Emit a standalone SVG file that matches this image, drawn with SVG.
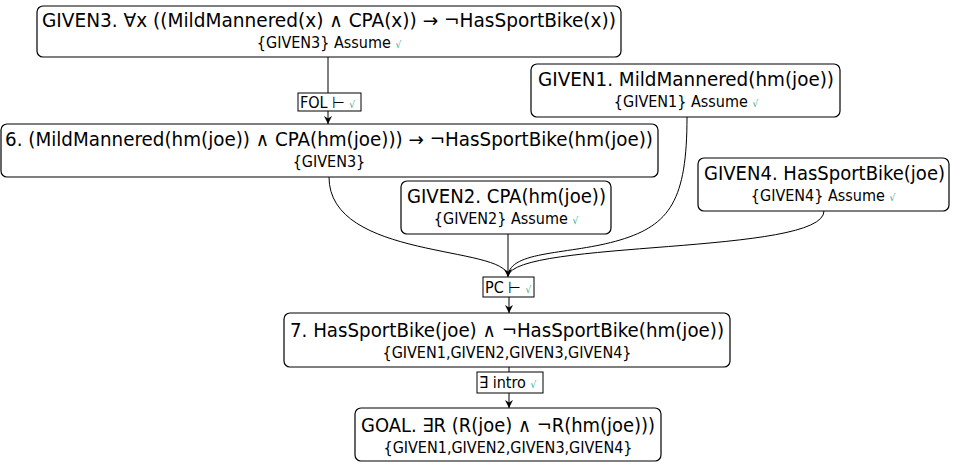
<svg xmlns="http://www.w3.org/2000/svg" width="954" height="465" viewBox="0 0 954 465">
<style>
.n rect{fill:#fff;stroke:#000;stroke-width:1.2}
.t{font-family:"DejaVu Sans Condensed","DejaVu Sans",sans-serif;font-size:19px;fill:#000}
.s{font-family:"DejaVu Sans Condensed","DejaVu Sans",sans-serif;font-size:16px;fill:#000;text-anchor:middle}
.c{font-size:10px;fill:#3aa89a}
.l rect{fill:#fff;stroke:#000;stroke-width:1}
.lt{font-family:"DejaVu Sans Condensed","DejaVu Sans",sans-serif;font-size:16px;fill:#000}
.e{fill:none;stroke:#000;stroke-width:1}
</style>
<defs>
<marker id="a" viewBox="0 0 10 10" refX="10" refY="5" markerWidth="8" markerHeight="8" orient="auto" markerUnits="userSpaceOnUse"><path d="M0,0L10,5L0,10L3,5z" fill="#000"/></marker>
</defs>
<g id="connectors">
<path class="e" d="M328,57V93"/>
<path class="e" d="M328,111V124" marker-end="url(#a)"/>
<path class="e" d="M329,177C329,260 505,245 508,276"/>
<path class="e" d="M687,117C687,200 670,225 620,240C570,255 510,250 508,276"/>
<path class="e" d="M508,234V277" marker-end="url(#a)"/>
<path class="e" d="M824,211C824,255 515,240 508,276"/>
<path class="e" d="M509,297V313" marker-end="url(#a)"/>
<path class="e" d="M509,367V372"/>
<path class="e" d="M509,393V408" marker-end="url(#a)"/>
</g>
<g id="l-fol" class="l"><rect x="298" y="93" width="63" height="18"/><text class="lt" x="300" y="108">FOL ⊢ <tspan class="c">√</tspan></text></g>
<g id="l-pc" class="l"><rect x="483" y="277" width="51" height="20"/><text class="lt" x="485" y="293">PC ⊢ <tspan class="c">√</tspan></text></g>
<g id="l-ex" class="l"><rect x="477" y="372" width="66" height="21"/><text class="lt" x="479" y="388">∃ intro <tspan class="c">√</tspan></text></g>
<g id="GIVEN3" class="n"><rect x="37" y="6" width="584" height="51" rx="6"/><text class="t" x="42" y="27" textLength="574" lengthAdjust="spacingAndGlyphs">GIVEN3. ∀x ((MildMannered(x) ∧ CPA(x)) → ¬HasSportBike(x))</text><text class="s" x="329" y="48">{GIVEN3} Assume <tspan class="c">√</tspan></text></g>
<g id="GIVEN1" class="n"><rect x="531" y="64" width="309" height="53" rx="6"/><text class="t" x="538" y="86" textLength="296" lengthAdjust="spacingAndGlyphs">GIVEN1. MildMannered(hm(joe))</text><text class="s" x="686" y="107">{GIVEN1} Assume <tspan class="c">√</tspan></text></g>
<g id="n6" class="n"><rect x="1" y="124" width="657" height="53" rx="6"/><text class="t" x="5" y="146" textLength="648" lengthAdjust="spacingAndGlyphs">6. (MildMannered(hm(joe)) ∧ CPA(hm(joe))) → ¬HasSportBike(hm(joe))</text><text class="s" x="329" y="167">{GIVEN3}</text></g>
<g id="GIVEN4" class="n"><rect x="698" y="158" width="251" height="53" rx="6"/><text class="t" x="704" y="180" textLength="241" lengthAdjust="spacingAndGlyphs">GIVEN4. HasSportBike(joe)</text><text class="s" x="823" y="201">{GIVEN4} Assume <tspan class="c">√</tspan></text></g>
<g id="GIVEN2" class="n"><rect x="401" y="181" width="210" height="53" rx="6"/><text class="t" x="407" y="203" textLength="199" lengthAdjust="spacingAndGlyphs">GIVEN2. CPA(hm(joe))</text><text class="s" x="506" y="224">{GIVEN2} Assume <tspan class="c">√</tspan></text></g>
<g id="n7" class="n"><rect x="284" y="313" width="446" height="54" rx="6"/><text class="t" x="290" y="337" textLength="434" lengthAdjust="spacingAndGlyphs">7. HasSportBike(joe) ∧ ¬HasSportBike(hm(joe))</text><text class="s" x="507" y="358">{GIVEN1,GIVEN2,GIVEN3,GIVEN4}</text></g>
<g id="GOAL" class="n"><rect x="355" y="408" width="306" height="53" rx="6"/><text class="t" x="361" y="432" textLength="294" lengthAdjust="spacingAndGlyphs">GOAL. ∃R (R(joe) ∧ ¬R(hm(joe)))</text><text class="s" x="508" y="453">{GIVEN1,GIVEN2,GIVEN3,GIVEN4}</text></g>
</svg>
